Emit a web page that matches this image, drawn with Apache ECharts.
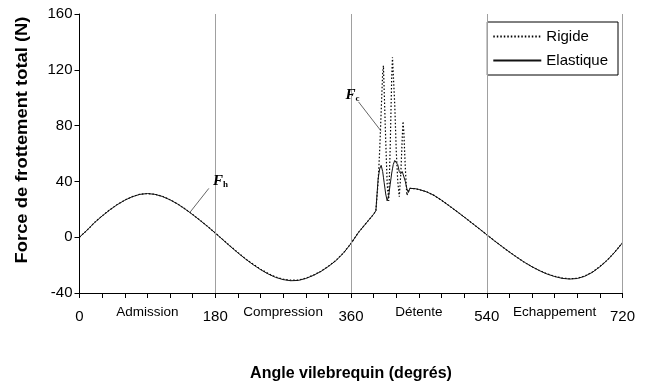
<!DOCTYPE html>
<html>
<head>
<meta charset="utf-8">
<script src="https://cdn.jsdelivr.net/npm/echarts@6/dist/echarts.min.js"></script>
<style>
  html, body { margin: 0; padding: 0; background: #fff; }
  #chart { width: 650px; height: 387px; }
</style>
</head>
<body>
<div id="chart"></div>
<script>
// Crank angle samples (degrees); denser around the combustion friction peaks
const angles = [
  0, 10, 20, 30, 40, 50, 60, 70, 80, 90, 100, 110, 120, 130, 140, 150, 160, 170, 180,
  190, 200, 210, 220, 230, 240, 250, 260, 270, 280, 290, 300, 310, 320, 330, 340, 350, 360,
  370, 380, 390, 393, 396, 398, 400, 402, 403, 404, 406, 408, 410, 412, 414, 415, 416, 418,
  420, 422, 424, 426, 428, 429, 430, 432, 434, 436, 438, 445, 450, 460, 470, 480, 490, 500,
  510, 520, 530, 540, 550, 560, 570, 580, 590, 600, 610, 620, 630, 640, 650, 660, 670, 680,
  690, 700, 710, 720
];

// Total friction force, rigid crankshaft model (N)
const rigide = [
  0, 5, 10.6, 15.3, 19.6, 23.4, 26.6, 29.1, 30.8, 31.3, 30.8, 29.3, 26.9, 23.9, 20.3, 16.3, 12.1, 7.7, 3,
  -1.7, -6.4, -11, -15.4, -19.3, -22.9, -26, -28.5, -30.1, -30.8, -30.7, -29.4, -27.2, -24.4, -20.8, -16.6, -11.2, -4.5,
  3.5, 10, 16.5, 19, 40, 62, 90, 118, 123, 105, 70, 38, 26, 65, 115, 129, 128,
  95, 62, 40, 29, 45, 72, 83, 76, 50, 30, 31, 35, 34.8, 34.2, 32.6, 30, 26.5, 22.6, 18.6,
  14.5, 10.3, 6.1, 1.8, -2.5, -6.6, -10.6, -14.4, -18, -21.2, -23.9, -26.3, -28, -29.3, -29.8, -29.4, -27.8, -25,
  -21, -16.3, -10.5, -4
];

// Total friction force, elastic crankshaft model (N)
const elastique = [
  0, 5, 10.5, 15.2, 19.5, 23.3, 26.5, 29, 30.7, 31.3, 30.7, 29.2, 26.8, 23.8, 20.2, 16.2, 12, 7.6, 3,
  -1.8, -6.6, -11.2, -15.6, -19.6, -23.2, -26.3, -28.8, -30.4, -31.2, -31, -29.6, -27.4, -24.6, -21, -16.8, -11.4, -4.5,
  3.5, 10, 16.5, 19, 42, 49, 51.5, 47, 43, 39, 31, 26, 30, 38, 46, 49, 52,
  55, 56, 52, 47, 45.5, 47, 48, 46, 40, 35, 32, 35, 34.8, 34.2, 32.6, 30, 26.5, 22.6, 18.6,
  14.5, 10.3, 6.1, 1.8, -2.5, -6.6, -10.6, -14.4, -18, -21.2, -24, -26.4, -28.2, -29.5, -30, -29.6, -28, -25.2,
  -21.2, -16.4, -10.6, -4
];

// Engine stroke names, centred on each half-turn
const phases = { 90: 'Admission', 270: 'Compression', 450: 'Détente', 630: 'Echappement' };
const majorTicks = [0, 180, 360, 540, 720];
const strokeBounds = [180, 360, 540, 720];

const FONT = '"Liberation Sans", Arial, sans-serif';
const pairs = (vals) => angles.map((a, i) => [a, vals[i]]);

const chart = echarts.init(document.getElementById('chart'), null, { renderer: 'canvas' });

chart.setOption({
  animation: false,
  backgroundColor: '#ffffff',
  grid: { left: 79.5, right: 27.5, top: 14, bottom: 83, containLabel: false },
  legend: {
    orient: 'vertical',
    right: 32,
    top: 22,
    backgroundColor: '#fff',
    borderColor: '#000',
    borderWidth: 1,
    padding: [7, 10, 7, 5],
    itemGap: 9,
    itemWidth: 48,
    itemHeight: 14,
    // hide the marker glyph, keep only the line sample
    itemStyle: { opacity: 0 },
    textStyle: { fontFamily: FONT, fontSize: 15, color: '#000' },
    data: ['Rigide', 'Elastique']
  },
  xAxis: {
    type: 'value',
    min: 0,
    max: 720,
    interval: 30,
    name: 'Angle vilebrequin (degrés)',
    nameLocation: 'middle',
    nameGap: 73,
    nameTextStyle: { fontFamily: FONT, fontSize: 16, fontWeight: 'bold', color: '#000' },
    axisLine: { onZero: false, lineStyle: { color: '#000', width: 1 } },
    axisTick: { show: true, inside: false, length: 5, lineStyle: { color: '#000' } },
    splitLine: { show: false },
    axisLabel: {
      margin: 12,
      showMinLabel: true,
      showMaxLabel: true,
      formatter: function (v) {
        if (majorTicks.indexOf(v) >= 0) return '{n|' + v + '}';
        if (phases[v]) return '{p|' + phases[v] + '}';
        return '';
      },
      rich: {
        n: { fontFamily: FONT, fontSize: 15, color: '#000', padding: [4, 0, 0, 0] },
        p: { fontFamily: FONT, fontSize: 13.5, color: '#000', padding: [0, 0, 6, 0] }
      }
    }
  },
  yAxis: {
    type: 'value',
    min: -40,
    max: 160,
    interval: 40,
    axisLine: { show: true, lineStyle: { color: '#000', width: 1 } },
    axisTick: { show: true, inside: false, length: 5, lineStyle: { color: '#000' } },
    splitLine: { show: false },
    axisLabel: { margin: 7, fontFamily: FONT, fontSize: 15, color: '#000' }
  },
  series: [
    {
      name: 'Rigide',
      type: 'line',
      symbol: 'none',
      data: pairs(rigide),
      lineStyle: { color: '#000', width: 1.2, type: [1.5, 2] },
      itemStyle: { color: '#000' },
      z: 3,
      markLine: {
        silent: true,
        symbol: 'none',
        label: { show: false },
        lineStyle: { color: '#a0a0a0', width: 1, type: 'solid' },
        data: strokeBounds.map((a) => ({ xAxis: a }))
      }
    },
    {
      name: 'Elastique',
      type: 'line',
      symbol: 'none',
      data: pairs(elastique),
      lineStyle: { color: '#111', width: 1 },
      itemStyle: { color: '#111' },
      z: 4
    }
  ]
});

// Callouts naming the hydrodynamic (Fh) and combustion-induced (Fc) friction
function callout(sub, textAt, from, to) {
  const t = chart.convertToPixel({ gridIndex: 0 }, textAt);
  const a = chart.convertToPixel({ gridIndex: 0 }, from);
  const b = chart.convertToPixel({ gridIndex: 0 }, to);
  return [
    {
      type: 'line',
      shape: { x1: a[0], y1: a[1], x2: b[0], y2: b[1] },
      style: { stroke: '#666', lineWidth: 1 },
      z: 10
    },
    {
      type: 'text',
      x: t[0],
      y: t[1],
      style: {
        text: '{f|F}{s|' + sub + '}',
        align: 'center',
        verticalAlign: 'middle',
        rich: {
          f: { fontFamily: '"Liberation Serif", serif', fontStyle: 'italic', fontWeight: 'bold', fontSize: 15, fill: '#000' },
          s: { fontFamily: '"Liberation Serif", serif', fontWeight: 'bold', fontSize: 9, fill: '#000', padding: [6, 0, 0, 0] }
        }
      },
      z: 10
    }
  ];
}

chart.setOption({
  graphic: [].concat(
    // vertical axis title, slightly stretched along its length
    [{
      type: 'text',
      x: 22.5,
      y: 140,
      rotation: Math.PI / 2,
      scaleX: 1.08,
      style: {
        text: 'Force de frottement total (N)',
        font: 'bold 17px ' + FONT,
        fill: '#000',
        align: 'center',
        verticalAlign: 'middle'
      }
    }],
    callout('h', [187, 40], [146, 17.5], [171.5, 35]),
    callout('c', [362, 101.5], [370, 97], [400, 76])
  )
});
</script>
</body>
</html>
